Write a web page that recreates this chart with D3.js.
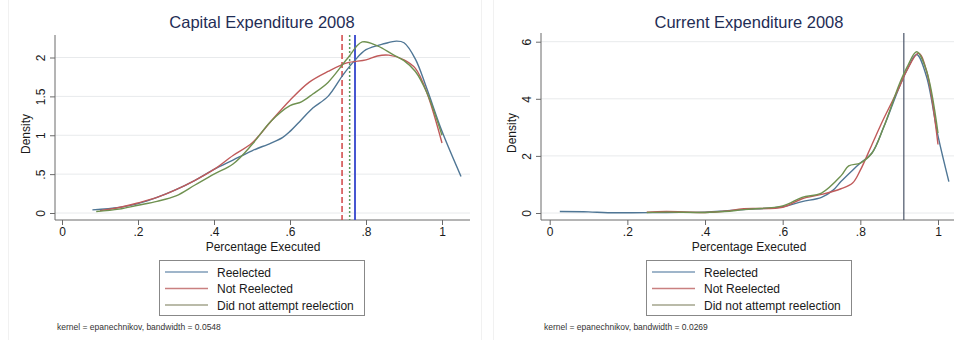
<!DOCTYPE html>
<html lang="en">
<head>
  <meta charset="utf-8" />
  <title>Expenditure densities 2008</title>
  <style>
    body { margin: 0; padding: 0; background: #fff; font-family: "Liberation Sans", Arial, sans-serif; }
    .grid line { stroke: #e8eaec; }
    .axis path, .axis line { stroke: #6a6a6a; }
    .axis text { fill: #1a1a1a; font-size: 12px; font-family: "Liberation Sans", Arial, sans-serif; }
    .curve { fill: none; stroke-width: 1.4px; }
  </style>
  <script src="https://d3js.org/d3.v7.min.js"></script>
</head>
<body>
  <svg width="954" height="340"></svg>
  <script>
    // group names and colors
    const groups = ["Reelected", "Not Reelected", "Did not attempt reelection"];
    const colors = ["#4f7695", "#c05a5a", "#6f9150"];
    const legendColors = ["#7f9cb8", "#c98080", "#a3a58c"];

    // Capital expenditure densities (x, density)
    const capReelected = [[0.08,0.04],[0.15,0.07],[0.2,0.12],[0.25,0.2],[0.3,0.3],[0.35,0.42],[0.4,0.56],[0.45,0.68],[0.5,0.8],[0.55,0.9],[0.58,0.97],[0.6,1.05],[0.63,1.2],[0.66,1.35],[0.7,1.5],[0.74,1.78],[0.77,1.96],[0.8,2.1],[0.85,2.18],[0.88,2.21],[0.9,2.19],[0.93,1.98],[0.96,1.6],[1.0,1.05],[1.05,0.47]];
    const capNotReelected = [[0.1,0.03],[0.15,0.07],[0.2,0.13],[0.25,0.2],[0.3,0.3],[0.35,0.42],[0.4,0.56],[0.45,0.74],[0.5,0.9],[0.55,1.18],[0.6,1.45],[0.65,1.68],[0.7,1.82],[0.75,1.93],[0.8,1.97],[0.83,2.02],[0.86,2.03],[0.9,1.97],[0.93,1.86],[0.96,1.55],[1.0,0.9]];
    const capNoAttempt = [[0.09,0.02],[0.15,0.05],[0.2,0.1],[0.25,0.15],[0.3,0.22],[0.35,0.36],[0.4,0.5],[0.45,0.63],[0.5,0.88],[0.55,1.18],[0.6,1.38],[0.63,1.43],[0.66,1.53],[0.7,1.68],[0.75,1.98],[0.79,2.2],[0.83,2.15],[0.87,2.04],[0.9,1.96],[0.93,1.82],[0.96,1.55],[1.0,1.0]];
    const capMeans = [0.737, 0.757, 0.771];

    // Current expenditure densities (x, density)
    const curReelected = [[0.026,0.05],[0.1,0.04],[0.15,0.01],[0.3,0.02],[0.4,0.03],[0.45,0.07],[0.5,0.12],[0.6,0.22],[0.65,0.4],[0.7,0.55],[0.73,0.8],[0.75,1.1],[0.78,1.5],[0.8,1.75],[0.83,2.1],[0.86,3.0],[0.9,4.4],[0.92,5.0],[0.945,5.55],[0.97,4.8],[1.0,2.7],[1.028,1.1]];
    const curNotReelected = [[0.25,0.03],[0.3,0.05],[0.4,0.02],[0.45,0.06],[0.5,0.15],[0.6,0.2],[0.65,0.5],[0.7,0.65],[0.75,0.85],[0.78,1.05],[0.8,1.5],[0.83,2.4],[0.86,3.3],[0.9,4.4],[0.92,5.0],[0.95,5.6],[0.97,5.0],[1.0,2.4]];
    const curNoAttempt = [[0.25,0.02],[0.3,0.03],[0.4,0.02],[0.45,0.05],[0.5,0.12],[0.6,0.25],[0.65,0.55],[0.7,0.7],[0.75,1.3],[0.77,1.65],[0.8,1.75],[0.83,2.1],[0.86,3.0],[0.9,4.5],[0.92,5.1],[0.945,5.65],[0.97,5.0],[1.0,2.8]];
    const curMean = 0.912;

    const xTicks = [0, 0.2, 0.4, 0.6, 0.8, 1];
    const capYTicks = [0, 0.5, 1, 1.5, 2];
    const curYTicks = [0, 2, 4, 6];

    const fmt = d => d === 0 ? "0" : d === 1 ? "1" : String(d).replace(/^0/, "");

    const svg = d3.select("svg");

    // faint graph-region edges
    [8.5, 481.5, 493.5].forEach(fx => {
      svg.append("line").attr("x1", fx).attr("x2", fx).attr("y1", 0).attr("y2", 340)
        .attr("stroke", "#f1f1f1");
    });

    const panels = [
      { title: "Capital Expenditure 2008", ox: 0, axisX: 55, right: 470, x0: 62, x1: 442, yTop: 35, yMaxPx: 57.5,
        yTicks: capYTicks, series: [capReelected, capNotReelected, capNoAttempt],
        bandwidth: "0.0548", legendX: 159, titleX: 262, labelX: 263, noteX: 57 },
      { title: "Current Expenditure 2008", ox: 477, axisX: 64, right: 477, x0: 72.7, x1: 461, yTop: 33, yMaxPx: 41.7,
        yTicks: curYTicks, series: [curReelected, curNotReelected, curNoAttempt],
        bandwidth: "0.0269", legendX: 169, titleX: 272, labelX: 272, noteX: 67 }
    ];

    const yBottom = 213, axisY = 220;

    panels.forEach((p, i) => {
      const g = svg.append("g").attr("transform", `translate(${p.ox},0)`);

      const x = d3.scaleLinear().domain([0, 1]).range([p.x0, p.x1]);
      const y = d3.scaleLinear()
        .domain([0, p.yTicks[p.yTicks.length - 1]])
        .range([yBottom, p.yMaxPx]);

      // grid
      g.append("g").attr("class", "grid")
        .selectAll("line").data(p.yTicks).join("line")
        .attr("x1", p.axisX).attr("x2", p.right)
        .attr("y1", d => y(d)).attr("y2", d => y(d));

      // y axis
      const yAxis = g.append("g").attr("class", "axis")
        .attr("transform", `translate(${p.axisX},0)`)
        .call(d3.axisLeft(y).tickValues(p.yTicks).tickFormat(fmt).tickSize(5).tickSizeOuter(0));
      yAxis.select(".domain").attr("d", `M0,${p.yTop}V${axisY}`);
      yAxis.selectAll(".tick text")
        .attr("transform", "rotate(-90)")
        .attr("x", 0).attr("y", -10)
        .attr("dy", 0)
        .attr("text-anchor", "middle");

      // x axis
      const xAxis = g.append("g").attr("class", "axis")
        .attr("transform", `translate(0,${axisY})`)
        .call(d3.axisBottom(x).tickValues(xTicks).tickFormat(fmt).tickSize(5).tickSizeOuter(0));
      xAxis.select(".domain").attr("d", `M${p.axisX},0H${p.right}`);
      xAxis.selectAll(".tick text").attr("y", 7).attr("dy", "0.71em");

      // title
      g.append("text")
        .attr("x", p.titleX).attr("y", 28)
        .attr("text-anchor", "middle")
        .attr("font-size", 16.5).attr("fill", "#1f2d55")
        .text(p.title);

      // axis labels
      g.append("text")
        .attr("transform", `translate(${p.axisX - 25},${(yBottom + p.yTop) / 2 + 10}) rotate(-90)`)
        .attr("text-anchor", "middle").attr("font-size", 12).attr("fill", "#1a1a1a")
        .text("Density");
      g.append("text")
        .attr("x", p.labelX).attr("y", 251)
        .attr("text-anchor", "middle").attr("font-size", 12).attr("fill", "#1a1a1a")
        .text("Percentage Executed");

      // mean lines
      if (i === 0) {
        const meanStyles = [
          { c: "#d04545", w: 1.5, dash: "6,3" },
          { c: "#5a9a5a", w: 1.5, dash: "2,2" },
          { c: "#4656d0", w: 2, dash: null }
        ];
        capMeans.forEach((m, k) => {
          const s = meanStyles[k];
          g.append("line")
            .attr("x1", x(m)).attr("x2", x(m))
            .attr("y1", p.yTop).attr("y2", axisY)
            .attr("stroke", s.c).attr("stroke-width", s.w)
            .attr("stroke-dasharray", s.dash);
        });
      } else {
        g.append("line")
          .attr("x1", x(curMean)).attr("x2", x(curMean))
          .attr("y1", p.yTop).attr("y2", axisY)
          .attr("stroke", "#4a5568").attr("stroke-width", 1.2);
      }

      // curves
      const line = d3.line().x(d => x(d[0])).y(d => y(d[1])).curve(d3.curveCatmullRom);
      p.series.forEach((s, k) => {
        g.append("path").attr("class", "curve")
          .attr("d", line(s))
          .attr("stroke", colors[k]);
      });

      // legend
      const lg = g.append("g").attr("transform", `translate(${p.legendX},260)`);
      lg.append("rect")
        .attr("x", 0.5).attr("y", 0.5).attr("width", 205).attr("height", 55)
        .attr("fill", "#fff").attr("stroke", "#888");
      groups.forEach((name, k) => {
        const ry = 12 + k * 16.5;
        lg.append("line")
          .attr("x1", 6).attr("x2", 49).attr("y1", ry).attr("y2", ry)
          .attr("stroke", legendColors[k]).attr("stroke-width", 1.3);
        lg.append("text")
          .attr("x", 58).attr("y", ry + 4.5)
          .attr("font-size", 12).attr("fill", "#1a1a1a")
          .text(name);
      });

      // note
      g.append("text")
        .attr("x", p.noteX).attr("y", 330)
        .attr("font-size", 8.5).attr("fill", "#333")
        .text(`kernel = epanechnikov, bandwidth = ${p.bandwidth}`);
    });
  </script>
</body>
</html>
